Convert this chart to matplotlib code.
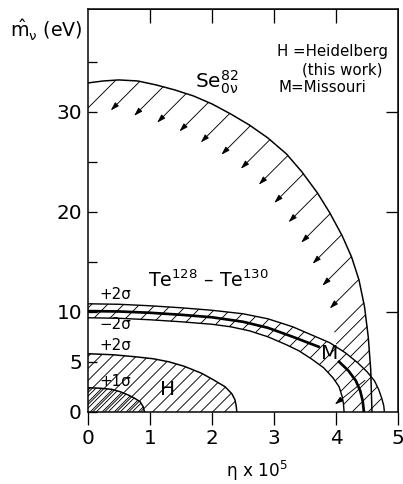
import matplotlib
matplotlib.use('Agg')
import matplotlib.pyplot as plt
from matplotlib.patches import Polygon
import numpy as np

plt.rcParams['font.family'] = ['DejaVu Sans']
plt.rcParams['mathtext.fontset'] = 'dejavusans'
plt.rcParams['mathtext.default'] = 'regular'

# curves (x = eta*1e5, y = m_nu in eV)
se_x = [0, 0.25, 0.5, 0.8, 1.1, 1.4, 1.7, 2.0, 2.3, 2.6, 2.9, 3.2, 3.45, 3.7,
        3.9, 4.1, 4.25, 4.37, 4.46, 4.52, 4.56, 4.58]
se_y = [32.9, 33.1, 33.2, 33.1, 32.7, 32.2, 31.6, 30.8, 29.8, 28.7, 27.4, 25.8,
        24.0, 21.9, 19.9, 17.6, 15.5, 13.2, 10.5, 7.5, 4.2, 0]

te_out_x = [0, 0.5, 1, 1.5, 2, 2.5, 2.9, 3.3, 3.6, 3.9, 4.15, 4.35, 4.5, 4.62,
            4.69, 4.74, 4.77, 4.78]
te_out_y = [10.8, 10.75, 10.6, 10.4, 10.15, 9.8, 9.3, 8.5, 7.7, 6.9, 5.9, 4.9,
            4.0, 3.1, 2.2, 1.3, 0.6, 0]

te_mid_x = [0, 0.5, 1, 1.5, 2, 2.5, 2.9, 3.3, 3.72, np.nan, 4.05, 4.2, 4.32,
            4.39, 4.43, 4.45]
te_mid_y = [10.07, 10.03, 9.9, 9.7, 9.45, 9.0, 8.4, 7.5, 6.5, np.nan, 5.0, 4.1,
            3.1, 2.1, 1.1, 0]

te_in_x = [0, 0.5, 1, 1.5, 2, 2.3, 2.6, 2.9, 3.2, 3.4, 3.6, 3.8, 3.95, 4.05,
           4.1, 4.12, 4.13]
te_in_y = [9.4, 9.35, 9.2, 9.0, 8.75, 8.5, 8.1, 7.5, 6.7, 6.1, 5.3, 4.4, 3.4,
           2.5, 1.5, 0.8, 0]

h2_x = [0, 0.4, 0.76, 1.05, 1.3, 1.55, 1.83, 2.02, 2.21, 2.32, 2.37, 2.39, 2.40]
h2_y = [5.8, 5.7, 5.5, 5.3, 5.0, 4.55, 3.85, 3.2, 2.5, 1.8, 1.2, 0.6, 0]

h1_x = [0, 0.2, 0.38, 0.52, 0.65, 0.75, 0.84, 0.89, 0.91]
h1_y = [2.4, 2.35, 2.24, 2.0, 1.67, 1.35, 1.0, 0.5, 0]

x_ticks = [0, 1, 2, 3, 4, 5]
y_ticks = [0, 5, 10, 15, 20, 25, 30, 35]
y_ticklabels = ['0', '5', '10', '', '20', '', '30', '']

W, H = 403, 484
fig = plt.figure(figsize=(W / 72, H / 72), dpi=72)
ax = fig.add_axes([88 / W, (H - 411.7) / H, 310 / W, 402.7 / H])
ax.set_xlim(0, 5)
ax.set_ylim(0, 40.3)
for sp in ax.spines.values():
    sp.set_linewidth(1.5)
inv = ax.transData.inverted()


def hatch(px, py, step, lw=0.9):
    # diagonal hatch lines clipped to the polygon (px, py)
    patch = Polygon(np.column_stack([px, py]), closed=True, transform=ax.transData,
                    facecolor='none', edgecolor='none')
    ax.add_patch(patch)
    P = ax.transData.transform(np.column_stack([px, py]))
    x0, y0 = P.min(axis=0)
    x1, y1 = P.max(axis=0)
    for c in np.arange(y0 - x1 - step, y1 - x0 + step, step):
        a = inv.transform((x0 - 2, x0 - 2 + c))
        b = inv.transform((x1 + 2, x1 + 2 + c))
        ln, = ax.plot([a[0], b[0]], [a[1], b[1]], color='black', lw=lw)
        ln.set_clip_path(patch)


# hatched regions
hatch(h2_x + [0], h2_y + [0], 12)
hatch(h1_x + [0], h1_y + [0], 6)
hatch(te_out_x + te_in_x[::-1], te_out_y + te_in_y[::-1], 16)

# curves
ax.plot(se_x, se_y, color='black', lw=1.5)
ax.plot(te_out_x, te_out_y, color='black', lw=1.4)
ax.plot(te_in_x, te_in_y, color='black', lw=1.4)
ax.plot(te_mid_x, te_mid_y, color='black', lw=2.7)
ax.plot(h2_x, h2_y, color='black', lw=1.5)
ax.plot(h1_x, h1_y, color='black', lw=1.5)

# arrows / hatch lines pointing inward from the Se curve
pts = ax.transData.transform(np.column_stack([se_x, se_y]))
s = np.concatenate([[0], np.cumsum(np.hypot(*np.diff(pts, axis=0).T))])
outside = Polygon(list(zip(te_out_x, te_out_y)) + [(5, 0), (5, 45), (0, 45)],
                  closed=True, transform=ax.transData, facecolor='none', edgecolor='none')
ax.add_patch(outside)
arrow = dict(arrowstyle='-|>,head_length=0.7,head_width=0.22',
             color='black', lw=0.9, shrinkA=0, shrinkB=0)
L = 29
d = 28.0
while d < s[-1]:
    p = np.array([np.interp(d, s, pts[:, 0]), np.interp(d, s, pts[:, 1])])
    start = inv.transform(p)
    tip = inv.transform(p - L)
    if start[1] > 11.5:
        if tip[0] > 0.05:
            ax.annotate('', xy=tip, xytext=start, arrowprops=arrow)
        else:
            ax.plot([start[0], tip[0]], [start[1], tip[1]], color='black', lw=0.9)
        d += 24
    else:
        ln, = ax.plot([start[0], tip[0]], [start[1], tip[1]], color='black', lw=0.9)
        ln.set_clip_path(outside)
        d += 12

# single arrow at the bottom where Se crosses the Te band
yy = np.linspace(0, 10, 400)
se_of_y = np.interp(yy, se_y[::-1], se_x[::-1])
out_of_y = np.interp(yy, te_out_y[::-1], te_out_x[::-1])
yc = yy[np.argmin(np.abs(se_of_y - out_of_y))]
p = ax.transData.transform((np.interp(yc, se_y[::-1], se_x[::-1]), yc))
ax.annotate('', xy=inv.transform(p - [36, 28]), xytext=inv.transform(p - [6, 4]),
            arrowprops=arrow)

# ticks
ax.set_xticks(x_ticks)
ax.set_xticklabels([str(v) for v in x_ticks])
ax.set_yticks(y_ticks)
ax.set_yticklabels(y_ticklabels)
ax.tick_params(axis='x', direction='out', length=13, width=1.3, labelsize=20, pad=4)
ax.tick_params(axis='y', direction='in', length=9, width=1.3, labelsize=20, pad=6)
top = ax.secondary_xaxis('top')
top.set_xticks([1, 2, 3, 4])
top.tick_params(direction='in', length=14, width=1.3, labeltop=False)
right = ax.secondary_yaxis('right')
right.set_yticks([10, 20, 30])
right.tick_params(direction='in', length=12, width=1.3, labelright=False)

# labels
ax.text(1.73, 33.0, 'Se$^{82}_{0\\nu}$', fontsize=20, va='center')
ax.text(0.97, 13.2, 'Te$^{128}$ – Te$^{130}$', fontsize=19, va='center')
ax.text(0.19, 11.7, '+2σ', fontsize=15, va='center')
ax.text(0.19, 8.7, '−2σ', fontsize=15, va='center')
ax.text(0.19, 6.6, '+2σ', fontsize=15, va='center')
ax.text(0.19, 3.0, '+1σ', fontsize=15, va='center')
ax.text(1.16, 2.25, 'H', fontsize=20, va='center')
ax.text(3.76, 5.8, 'M', fontsize=20, va='center')
ax.text(3.05, 36.0, 'H =Heidelberg', fontsize=15, va='center')
ax.text(3.45, 34.2, '(this work)', fontsize=15, va='center')
ax.text(3.07, 32.4, 'M=Missouri', fontsize=15, va='center')

fig.text(10 / W, 1 - 30 / H, '$\\hat{m}_{\\nu}$ (eV)', fontsize=19, va='center', ha='left')
fig.text(257 / W, 1 - 471 / H, 'η x 10$^{5}$', fontsize=17, va='center', ha='center')

fig.savefig('out.png', dpi=72)
